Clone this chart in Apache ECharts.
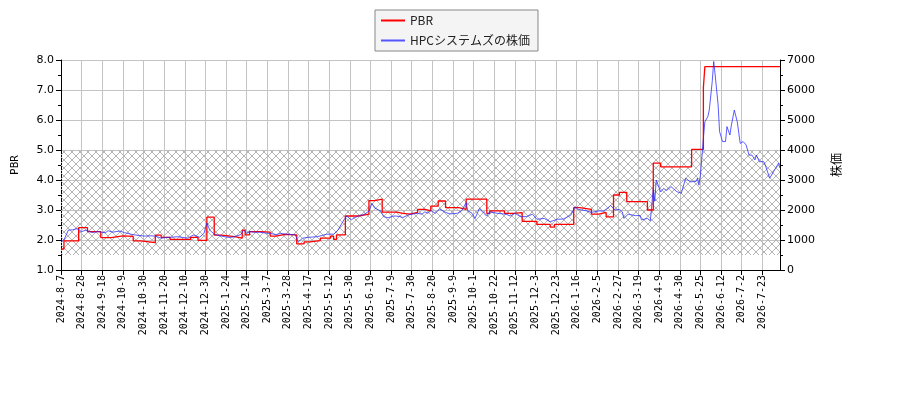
<!DOCTYPE html>
<html>
  <head>
    <meta charset="UTF-8" />
    <title>PBR と株価</title>
    <script src="https://cdn.jsdelivr.net/npm/echarts@6/dist/echarts.min.js"></script>
    <style>
      html, body { margin: 0; padding: 0; background: #fff; }
      #main { width: 900px; height: 400px; }
    </style>
  </head>
  <body>
    <div id="main"></div>
    <script>
      // x labels, one every 14 trading days (index 0, 14, 28 ...)
      const tickLabels = [
        '2024-8-7', '2024-8-28', '2024-9-18', '2024-10-9', '2024-10-30',
        '2024-11-20', '2024-12-10', '2024-12-30', '2025-1-24', '2025-2-14',
        '2025-3-7', '2025-3-28', '2025-4-17', '2025-5-12', '2025-5-30',
        '2025-6-19', '2025-7-9', '2025-7-30', '2025-8-20', '2025-9-9',
        '2025-10-1', '2025-10-22', '2025-11-12', '2025-12-3', '2025-12-23',
        '2026-1-16', '2026-2-5', '2026-2-27', '2026-3-19', '2026-4-9',
        '2026-4-30', '2026-5-25', '2026-6-12', '2026-7-2', '2026-7-23'
      ]
      const tickStep = 14
      const lastIndex = 488

      // PBR: trading-day index where the value changes, and the new value
      const pbrIdx = [0, 2, 12, 18, 27, 34, 42, 49, 54, 64, 68, 74, 88, 93, 99, 104, 109, 118,
        123, 125, 128, 135, 142, 146, 152, 160, 165, 169, 176, 183, 185, 187, 193, 202, 209,
        213, 218, 228, 232, 237, 242, 247, 251, 256, 261, 270, 275, 289, 291, 301, 307, 313,
        323, 332, 335, 348, 352, 360, 365, 370, 375, 379, 384, 398, 402, 407, 428, 436, 437, 488]
      const pbrVal = [1.70, 1.97, 2.41, 2.28, 2.08, 2.14, 2.12, 1.97, 1.91, 2.16, 2.09, 2.02, 2.09, 1.99, 2.76, 2.16, 2.11, 2.06,
        2.33, 2.17, 2.28, 2.26, 2.13, 2.19, 2.17, 1.87, 1.94, 1.98, 2.06, 2.13, 2.02, 2.17, 2.80, 2.86, 3.31,
        3.36, 2.93, 2.89, 2.86, 2.92, 3.02, 2.97, 3.13, 3.30, 3.08, 3.02, 3.36, 2.89, 2.97, 2.89, 2.91, 2.62,
        2.52, 2.43, 2.52, 3.08, 3.02, 2.86, 2.92, 2.77, 3.50, 3.59, 3.28, 3.00, 4.56, 4.44, 5.02, 7.08, 7.78, 7.78]

      // share price (yen) read at trading-day indexes
      const priceIdx = [0, 2, 5, 8, 11, 14, 17, 21, 25, 30, 32, 35, 40, 43, 47, 50, 53, 57, 61, 64,
        68, 72, 75, 79, 82, 86, 90, 94, 97, 99, 101, 104, 109, 113, 116, 119, 122, 124, 126, 128,
        131, 135, 139, 142, 146, 149, 152, 155, 159, 161, 164, 168, 171, 174, 177, 180, 183, 185, 188, 192,
        194, 197, 199, 201, 203, 205, 209, 211, 213, 217, 219, 222, 225, 227, 230, 232, 236, 239, 242, 245,
        247, 249, 251, 254, 257, 261, 264, 269, 272, 275, 276, 279, 281, 284, 287, 289, 291, 296, 302, 305,
        308, 312, 316, 320, 323, 328, 332, 337, 341, 346, 349, 351, 356, 360, 365, 368, 371, 373, 376, 379,
        381, 382, 385, 390, 393, 394, 398, 400, 402, 403, 404, 407, 409, 411, 414, 418, 421, 424, 427, 431,
        432, 433, 434, 436, 437, 439, 440, 442, 443, 444, 446, 447, 449, 451, 452, 454, 455, 457, 459, 461,
        463, 465, 467, 469, 471, 472, 474, 477, 478, 481, 485, 487, 488]
      const priceVal = [950, 1000, 1330, 1340, 1380, 1280, 1330, 1250, 1280, 1240, 1310, 1260, 1300, 1245, 1200, 1170, 1150, 1130, 1140, 1130,
        1060, 1090, 1090, 1110, 1090, 1060, 1170, 1090, 1220, 1560, 1330, 1190, 1130, 1090, 1090, 1130, 1180, 1330, 1220, 1280,
        1260, 1260, 1230, 1220, 1180, 1220, 1200, 1190, 1170, 940, 1060, 1090, 1100, 1110, 1150, 1190, 1200, 1190, 1330, 1670,
        1800, 1670, 1740, 1780, 1830, 1830, 1960, 2220, 2060, 1970, 1780, 1740, 1790, 1800, 1780, 1750, 1840, 1870, 1890, 1860,
        1940, 1890, 1980, 1890, 2030, 1920, 1870, 1890, 1980, 2250, 1980, 1890, 1720, 2050, 1890, 1800, 1940, 1890, 1860, 1800,
        1890, 1780, 1780, 1860, 1690, 1720, 1610, 1690, 1700, 1830, 2110, 2020, 1980, 1920, 1970, 1960, 2060, 2150, 2000, 2020,
        1940, 1720, 1860, 1810, 1820, 1670, 1720, 1640, 2720, 2300, 3000, 2600, 2720, 2650, 2780, 2610, 2560, 3060, 2940, 2950,
        3060, 2830, 3170, 4390, 4940, 5110, 5330, 6280, 6950, 6500, 5500, 4610, 4280, 4280, 4780, 4500, 4830, 5330, 4940, 4220,
        4280, 4170, 3830, 3830, 3670, 3830, 3610, 3610, 3500, 3060, 3390, 3560, 3390]

      // hatched PBR band
      const bandLow = 1.5
      const bandHigh = 5.0

      const zip = (a, b) => a.map((v, i) => [v, b[i]])

      // cross hatch tile
      let hatch = document.createElement('canvas')
      hatch.width = 8
      hatch.height = 8
      let ctx = hatch.getContext('2d')
      ctx.strokeStyle = '#b4b4b4'
      ctx.lineWidth = 1
      ctx.beginPath()
      ctx.moveTo(0, 0); ctx.lineTo(8, 8)
      ctx.moveTo(8, 0); ctx.lineTo(0, 8)
      ctx.stroke()

      const font = "'DejaVu Sans', sans-serif"
      const axisLine = { show: true, lineStyle: { color: '#000', width: 1 } }
      const lineIcon = 'path://M0,0 L24,0 L24,2 L0,2 Z'

      let chart = echarts.init(document.getElementById('main'))
      chart.setOption({
        animation: false,
        legend: {
          orient: 'vertical',
          left: 375,
          top: 10,
          padding: [4, 8, 4, 6],
          itemGap: 7,
          itemWidth: 24,
          itemHeight: 2,
          backgroundColor: '#f4f4f4',
          borderColor: '#888',
          borderWidth: 1,
          borderRadius: 0,
          textStyle: { fontFamily: "'Noto Sans CJK JP'", fontSize: 12, color: '#222', lineHeight: 13 },
          data: [
            { name: 'PBR', icon: lineIcon },
            { name: 'HPCシステムズの株価', icon: lineIcon }
          ]
        },
        grid: { left: 61, right: 120, top: 60, bottom: 130 },
        xAxis: {
          type: 'value',
          min: 0,
          max: lastIndex,
          interval: tickStep,
          axisLine: axisLine,
          axisTick: { show: true, length: 5, lineStyle: { color: '#000' } },
          axisLabel: {
            rotate: 90,
            margin: 5,
            showMaxLabel: false,
            fontFamily: "'DejaVu Sans Mono', monospace",
            fontSize: 10,
            color: '#000',
            formatter: (v) => (v % tickStep === 0 ? tickLabels[v / tickStep] || '' : '')
          },
          splitLine: { show: true, lineStyle: { color: '#c4c4c4', width: 1 } }
        },
        yAxis: [
          {
            type: 'value',
            min: 1,
            max: 8,
            interval: 1,
            name: 'PBR',
            nameLocation: 'middle',
            nameGap: 40,
            nameTextStyle: { fontFamily: "'DejaVu Sans Mono', monospace", fontSize: 11, color: '#000' },
            axisLine: axisLine,
            axisTick: { show: true, length: 5, lineStyle: { color: '#000' } },
            minorTick: { show: true, splitNumber: 2, length: 3, lineStyle: { color: '#000' } },
            axisLabel: { fontFamily: font, fontSize: 11, color: '#000', margin: 7, formatter: (v) => v.toFixed(1) },
            splitLine: { show: true, lineStyle: { color: '#c4c4c4', width: 1 } }
          },
          {
            type: 'value',
            min: 0,
            max: 7000,
            interval: 1000,
            name: '株価',
            nameLocation: 'middle',
            nameGap: 50,
            nameTextStyle: { fontFamily: "'Noto Sans CJK JP'", fontSize: 12, color: '#000' },
            axisLine: axisLine,
            axisTick: { show: true, length: 5, lineStyle: { color: '#000' } },
            minorTick: { show: true, splitNumber: 2, length: 3, lineStyle: { color: '#000' } },
            axisLabel: { fontFamily: font, fontSize: 11, color: '#000', margin: 7, formatter: (v) => String(v) },
            splitLine: { show: false }
          }
        ],
        series: [
          {
            name: 'PBR',
            type: 'line',
            yAxisIndex: 0,
            step: 'end',
            symbol: 'none',
            color: '#ff0000',
            lineStyle: { color: '#ff0000', width: 1.3 },
            data: zip(pbrIdx, pbrVal),
            markArea: {
              silent: true,
              itemStyle: { color: { image: hatch, repeat: 'repeat' } },
              data: [[{ xAxis: 0, yAxis: bandLow }, { xAxis: lastIndex, yAxis: bandHigh }]]
            }
          },
          {
            name: 'HPCシステムズの株価',
            type: 'line',
            yAxisIndex: 1,
            symbol: 'none',
            color: '#5555ff',
            lineStyle: { color: 'rgba(40,40,255,0.85)', width: 0.9 },
            data: zip(priceIdx, priceVal)
          }
        ]
      })
    </script>
  </body>
</html>
